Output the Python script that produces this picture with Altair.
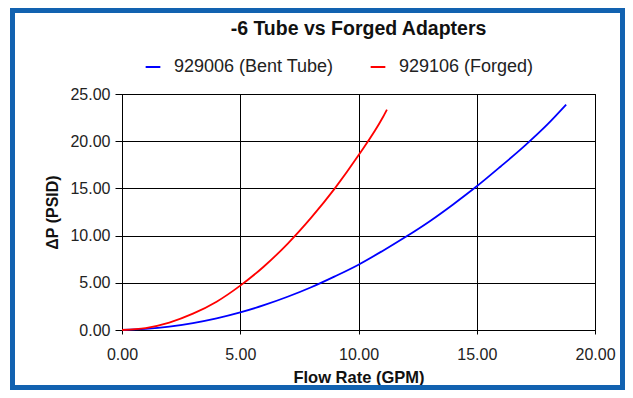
import altair as alt
import pandas as pd

# ---- data ----
blue_name = "929006 (Bent Tube)"
red_name = "929106 (Forged)"

blue_x = [0, 1, 2, 3, 4, 5, 6, 7, 8, 9, 10, 11, 12, 13, 14, 15, 16, 17, 18, 18.78]
blue_y = [0.0, 0.12, 0.36, 0.74, 1.24, 1.87, 2.63, 3.52, 4.53, 5.68, 6.92, 8.35, 9.87,
          11.5, 13.3, 15.22, 17.3, 19.45, 21.8, 23.87]

red_x = [0, 1, 2, 3, 4, 5, 6, 7, 8, 9, 10, 11, 11.2]
red_y = [0.0, 0.21, 0.79, 1.73, 3.0, 4.7, 6.73, 9.13, 11.9, 15.0, 18.5, 22.4, 23.34]

x_ticks = [0, 5, 10, 15, 20]
y_ticks = [0, 5, 10, 15, 20, 25]

df = pd.DataFrame({
    "flow": blue_x + red_x,
    "dp": blue_y + red_y,
    "series": [blue_name] * len(blue_x) + [red_name] * len(red_x),
})

FONT = "Liberation Sans"
W, H = 473, 236
PAD_L, PAD_T = 114, 86
TOTAL_W, TOTAL_H = 617, 382

lines = alt.Chart(df).mark_line(strokeWidth=1.8, interpolate="monotone").encode(
    x=alt.X("flow:Q",
            scale=alt.Scale(domain=[0, 20], nice=False, zero=True),
            axis=alt.Axis(values=x_ticks, format=".2f", title="Flow Rate (GPM)",
                          tickSize=4, labelPadding=12, labelFlush=False,
                          titleY=52, titleBaseline="alphabetic",
                          titleFontSize=16.5)),
    y=alt.Y("dp:Q",
            scale=alt.Scale(domain=[0, 25], nice=False),
            axis=alt.Axis(values=y_ticks, format=".2f", title="\u0394P (PSID)",
                          tickSize=7, labelPadding=5, labelFlush=False,
                          titleAngle=270, titleX=-65, titleY=118,
                          titleAlign="center", titleBaseline="alphabetic",
                          titleFontSize=16)),
    color=alt.Color("series:N",
                    scale=alt.Scale(domain=[blue_name, red_name], range=["#0000ff", "#ff0000"]),
                    legend=alt.Legend(title=None, orient="none", direction="horizontal",
                                      legendX=22, legendY=-36,
                                      symbolType="stroke", symbolSize=216,
                                      symbolStrokeWidth=2, labelOffset=12,
                                      columnPadding=32, padding=0,
                                      labelFont=FONT, labelFontSize=18,
                                      labelColor="#222222")),
)

border = alt.Chart(pd.DataFrame({"k": [0]})).mark_rect(
    fillOpacity=0, stroke="#1262b0", strokeWidth=5
).encode(
    x=alt.value(4.5 - PAD_L), x2=alt.value(614.5 - PAD_L),
    y=alt.value(2.5 - PAD_T), y2=alt.value(379.5 - PAD_T),
)

chart = alt.layer(border, lines).properties(
    width=W, height=H,
    title=alt.TitleParams("-6 Tube vs Forged Adapters", font=FONT, fontSize=19.5,
                          fontWeight="bold", anchor="middle", color="#111111",
                          offset=0, dy=31),
    autosize=alt.AutoSizeParams(type="none"),
    padding={"left": PAD_L, "top": PAD_T,
             "right": TOTAL_W - PAD_L - W, "bottom": TOTAL_H - PAD_T - H},
    background="white",
).configure_axis(
    labelFont=FONT, labelFontSize=16, labelColor="#222222",
    titleFont=FONT, titleFontWeight="bold", titleColor="#111111",
    domainColor="black", tickColor="black", gridColor="black",
    gridOpacity=1, gridWidth=1, domainWidth=1, tickWidth=1,
).configure_view(stroke="black", strokeWidth=1)

chart.save("out.html", embed_options={"renderer": "svg", "actions": False})
